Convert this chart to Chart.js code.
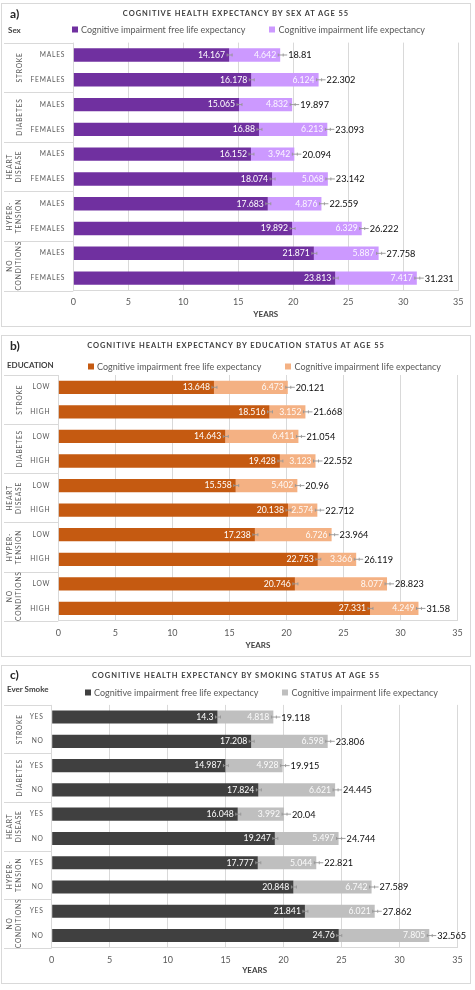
<!DOCTYPE html>
<html>
<head>
<meta charset="utf-8">
<script src="https://cdn.jsdelivr.net/npm/chart.js@4"></script>
<style>
body { margin: 0; width: 475px; height: 990px; background: #fff; font-family: Lato, sans-serif; position: relative; overflow: hidden; }
.panel { position: absolute; left: 1px; width: 470px; box-sizing: border-box; border: 1px solid #d9d9d9; background: #fff; }
.panel canvas { position: absolute; left: 0; top: 0; }
.tag, .var, .title, .legend { position: absolute; line-height: 1; transform: translateY(-50%); white-space: nowrap; }
.tag { font-weight: bold; font-size: 12px; color: #262626; }
.var { font-weight: bold; font-size: 8px; color: #404040; }
.title { left: 0; width: 100%; text-align: center; font-weight: bold; font-size: 7.5px; letter-spacing: 0.95px; color: #404040; }
.legend { display: flex; gap: 24px; font-size: 9px; color: #595959; }
.legend i { display: inline-block; width: 6px; height: 6px; margin-right: 3px; vertical-align: 0; }
</style>
</head>
<body>

<div class="panel" id="pa" style="top:3px;height:324px">
  <canvas id="ca" width="468" height="322"></canvas>
  <div class="tag" style="left:8px;top:9.5px">a)</div>
  <div class="var" style="left:6px;top:26px">Sex</div>
  <div class="title" style="top:10px">COGNITIVE HEALTH EXPECTANCY BY SEX AT AGE 55</div>
  <div class="legend" id="la" style="left:70px;top:25px"></div>
</div>

<div class="panel" id="pb" style="top:335px;height:322px">
  <canvas id="cb" width="468" height="320"></canvas>
  <div class="tag" style="left:8px;top:10px">b)</div>
  <div class="var" style="left:5px;top:29px">EDUCATION</div>
  <div class="title" style="top:9.7px">COGNITIVE HEALTH EXPECTANCY BY EDUCATION STATUS AT AGE 55</div>
  <div class="legend" id="lb" style="left:86px;top:30px"></div>
</div>

<div class="panel" id="pc" style="top:665px;height:319px">
  <canvas id="cc" width="468" height="317"></canvas>
  <div class="tag" style="left:8px;top:9px">c)</div>
  <div class="var" style="left:5px;top:23px">Ever Smoke</div>
  <div class="title" style="top:9.7px">COGNITIVE HEALTH EXPECTANCY BY SMOKING STATUS AT AGE 55</div>
  <div class="legend" id="lc" style="left:83px;top:26px"></div>
</div>

<script>
// data
const seriesNames = ['Cognitive impairment free life expectancy', 'Cognitive impairment life expectancy'];
const conditions = [['STROKE'], ['DIABETES'], ['HEART', 'DISEASE'], ['HYPER-', 'TENSION'], ['NO', 'CONDITIONS']];

const sexLevels = ['MALES', 'FEMALES'];
const sexFree = [14.167, 16.178, 15.065, 16.88, 16.152, 18.074, 17.683, 19.892, 21.871, 23.813];
const sexImpaired = [4.642, 6.124, 4.832, 6.213, 3.942, 5.068, 4.876, 6.329, 5.887, 7.417];
const sexTotal = [18.81, 22.302, 19.897, 23.093, 20.094, 23.142, 22.559, 26.222, 27.758, 31.231];

const eduLevels = ['LOW', 'HIGH'];
const eduFree = [13.648, 18.516, 14.643, 19.428, 15.558, 20.138, 17.238, 22.753, 20.746, 27.331];
const eduImpaired = [6.473, 3.152, 6.411, 3.123, 5.402, 2.574, 6.726, 3.366, 8.077, 4.249];
const eduTotal = [20.121, 21.668, 21.054, 22.552, 20.96, 22.712, 23.964, 26.119, 28.823, 31.58];

const smokeLevels = ['YES', 'NO'];
const smokeFree = [14.3, 17.208, 14.987, 17.824, 16.048, 19.247, 17.777, 20.848, 21.841, 24.76];
const smokeImpaired = [4.818, 6.598, 4.928, 6.621, 3.992, 5.497, 5.044, 6.742, 6.021, 7.805];
const smokeTotal = [19.118, 23.806, 19.915, 24.445, 20.04, 24.744, 22.821, 27.589, 27.862, 32.565];

const xMin = 0, xMax = 35, xStep = 5;

// colors
const purple = ['#7030A0', '#CC99FF'];
const orange = ['#C55A11', '#F4B183'];
const grey = ['#404040', '#BFBFBF'];

function buildLegend(id, colors) {
    const el = document.getElementById(id);
    seriesNames.forEach((name, i) => {
        const s = document.createElement('span');
        s.innerHTML = `<i style="background:${colors[i]}"></i>${name}`;
        el.appendChild(s);
    });
}

// labels, group boxes, error marks and totals
const deco = {
    id: 'deco',
    afterDatasetsDraw(chart) {
        const ctx = chart.ctx;
        const area = chart.chartArea;
        const yScale = chart.scales.y;
        const o = chart.options.plugins.deco;
        const m0 = chart.getDatasetMeta(0);
        const m1 = chart.getDatasetMeta(1);
        ctx.save();

        // group separators on the left
        ctx.strokeStyle = '#d9d9d9';
        ctx.lineWidth = 1;
        for (let g = 0; g <= conditions.length; g++) {
            let y;
            if (g === 0) y = area.top;
            else if (g === conditions.length) y = area.bottom;
            else y = (yScale.getPixelForValue(g * 2 - 1) + yScale.getPixelForValue(g * 2)) / 2;
            y = Math.round(y) + 0.5;
            ctx.beginPath();
            ctx.moveTo(2, y);
            ctx.lineTo(area.left, y);
            ctx.stroke();
        }

        // category labels
        ctx.fillStyle = '#595959';
        ctx.font = '6.7px Lato';
        ctx.letterSpacing = '0.8px';
        ctx.textBaseline = 'middle';
        ctx.textAlign = 'right';
        m0.data.forEach((bar, i) => {
            ctx.fillText(o.levels[i % 2], area.left - 8, bar.y);
        });

        // group labels, rotated
        ctx.textAlign = 'center';
        conditions.forEach((lines, g) => {
            const yc = (yScale.getPixelForValue(g * 2) + yScale.getPixelForValue(g * 2 + 1)) / 2;
            const xs = lines.length === 1 ? [17.5] : [8, 17];
            lines.forEach((t, k) => {
                ctx.save();
                ctx.translate(xs[k], yc);
                ctx.rotate(-Math.PI / 2);
                ctx.fillText(t, 0, 0);
                ctx.restore();
            });
        });
        ctx.letterSpacing = '0px';

        // error marks
        ctx.strokeStyle = 'rgba(150,150,150,0.9)';
        const mark = (x, y) => {
            ctx.beginPath();
            ctx.moveTo(x - 2, y); ctx.lineTo(x + 3, y);
            ctx.moveTo(x - 2, y - 1.5); ctx.lineTo(x - 2, y + 1.5);
            ctx.moveTo(x + 3, y - 1.5); ctx.lineTo(x + 3, y + 1.5);
            ctx.stroke();
        };

        // value labels
        ctx.font = '8.7px Lato';
        ctx.textAlign = 'right';
        m0.data.forEach((bar, i) => {
            ctx.fillStyle = '#ffffff';
            ctx.fillText(String(chart.data.datasets[0].data[i]), bar.x - 4, bar.y);
            const b1 = m1.data[i];
            ctx.fillStyle = 'rgba(255,255,255,0.92)';
            ctx.fillText(String(chart.data.datasets[1].data[i]), b1.x - 4, b1.y);
            mark(bar.x, bar.y);
            mark(b1.x, b1.y);
            ctx.beginPath();
            ctx.moveTo(b1.x + 3, b1.y); ctx.lineTo(b1.x + 7, b1.y);
            ctx.stroke();
        });

        // totals
        ctx.textAlign = 'left';
        ctx.fillStyle = '#0d0d0d';
        ctx.font = '9.2px Lato';
        m1.data.forEach((bar, i) => {
            ctx.fillText(String(o.totals[i]), bar.x + 8, bar.y + 0.5);
        });
        ctx.restore();
    }
};

function makeChart(id, free, impaired, totals, levels, colors, lay) {
    return new Chart(document.getElementById(id), {
        type: 'bar',
        data: {
            labels: free.map((v, i) => levels[i % 2]),
            datasets: [
                { label: seriesNames[0], data: free, backgroundColor: colors[0], barPercentage: 0.54, categoryPercentage: 1 },
                { label: seriesNames[1], data: impaired, backgroundColor: colors[1], barPercentage: 0.54, categoryPercentage: 1 }
            ]
        },
        options: {
            indexAxis: 'y',
            responsive: false,
            animation: false,
            layout: { padding: { left: lay.left, right: lay.right, top: lay.top, bottom: 0 } },
            plugins: {
                legend: { display: false },
                tooltip: { enabled: false },
                deco: { totals: totals, levels: levels }
            },
            scales: {
                y: { display: false, stacked: true },
                x: {
                    stacked: true,
                    min: xMin,
                    max: xMax,
                    ticks: { stepSize: xStep, color: '#595959', font: { family: 'Lato', size: 9 }, padding: lay.tickPad },
                    grid: { color: '#d9d9d9', drawTicks: false },
                    border: { color: '#d9d9d9' },
                    title: { display: true, text: 'YEARS', color: '#404040', font: { family: 'Lato', size: 8, weight: 'bold' }, padding: { top: 0, bottom: lay.titlePad } },
                    afterFit: s => { s.height = lay.xh; }
                }
            }
        },
        plugins: [deco]
    });
}

buildLegend('la', purple);
buildLegend('lb', orange);
buildLegend('lc', grey);

makeChart('ca', sexFree, sexImpaired, sexTotal, sexLevels, purple,
    { left: 71.3, right: 9.7, top: 38.6, xh: 35.5, tickPad: 6.5, titlePad: 7.2 });
makeChart('cb', eduFree, eduImpaired, eduTotal, eduLevels, orange,
    { left: 56.3, right: 9.7, top: 39, xh: 35.3, tickPad: 7.3, titlePad: 5.5 });
makeChart('cc', smokeFree, smokeImpaired, smokeTotal, smokeLevels, grey,
    { left: 49.7, right: 9.7, top: 38.9, xh: 35.3, tickPad: 7.3, titlePad: 8.2 });
</script>
</body>
</html>
